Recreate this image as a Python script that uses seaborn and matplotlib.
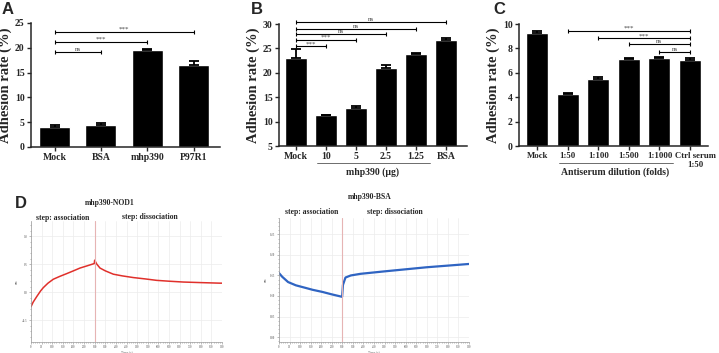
import matplotlib
matplotlib.use("Agg")
import matplotlib.pyplot as plt
import matplotlib.transforms as mtransforms
from matplotlib.ticker import MultipleLocator
import pandas as pd
import seaborn as sns

# ---- panel A ----
a_groups = ['Mock', 'BSA', 'mhp390', 'P97R1']
a_mean = [4.0, 4.5, 19.5, 16.6]
a_sd = [0.4, 0.4, 0.2, 0.7]
a_pairs = [(0, 1), (0, 2), (0, 3)]
a_heights = [19.2, 21.2, 23.2]
a_marks = ['ns', '***', '***']

# ---- panel B ----
b_groups = ['Mock', '10', '5', '2.5', '1.25', 'BSA']
b_mean = [23.1, 11.3, 12.8, 20.9, 23.8, 26.8]
b_sd = [1.7, 0.15, 0.4, 0.6, 0.3, 0.3]
b_pairs = [(0, 1), (0, 2), (0, 3), (0, 4), (0, 5)]
b_heights = [25.4, 26.8, 28.0, 29.05, 30.4]
b_marks = ['***', '***', 'ns', 'ns', 'ns']

# ---- panel C ----
c_groups = ['Mock', '1:50', '1:100', '1:500', '1:1000', 'Ctrl serum\n1:50']
c_mean = [9.3, 4.25, 5.5, 7.1, 7.2, 7.05]
c_sd = [0.1, 0.1, 0.15, 0.15, 0.08, 0.15]
c_pairs = [(1, 5), (2, 5), (3, 5), (4, 5)]
c_heights = [9.42, 8.82, 8.33, 7.73]
c_marks = ['***', '***', 'ns', 'ns']

# ---- panel D: sensorgrams ----
nod1_time = [0, 10, 27, 45, 58, 80, 105, 135, 168, 200, 231, 265, 298,
             300, 310, 325, 350, 388, 430, 482, 540, 592, 650, 718, 800, 890, 900]
nod1_nm = [-0.26, -0.18, -0.08, 0.02, 0.08, 0.16, 0.23, 0.28, 0.33, 0.38, 0.43, 0.47, 0.51,
           0.57, 0.50, 0.43, 0.38, 0.32, 0.29, 0.26, 0.235, 0.21, 0.195, 0.18, 0.17, 0.16, 0.16]
bsa_time = [0, 15, 43, 80, 124, 160, 205, 250, 299,
            300, 303, 315, 340, 386, 500, 600, 700, 800, 900]
bsa_nm = [0.156, 0.147, 0.134, 0.126, 0.12, 0.115, 0.11, 0.104, 0.098,
          0.105, 0.127, 0.145, 0.15, 0.154, 0.16, 0.165, 0.17, 0.174, 0.178]

sns.set_style("ticks")
plt.rcParams['font.family'] = ['Liberation Serif', 'DejaVu Sans']
plt.rcParams['font.weight'] = 'bold'

fig = plt.figure(figsize=(7.19, 3.53), dpi=100)


def bar_panel(rect, groups, means, sds, ylim, ystep, xlim, width, pairs, heights, marks,
              xsize=7):
    ax = fig.add_axes(rect)
    df = pd.DataFrame({'group': groups, 'mean': means})
    sns.barplot(data=df, x='group', y='mean', color='black', saturation=1,
                width=width, errorbar=None, ax=ax)
    ax.errorbar(range(len(groups)), means, yerr=[[0] * len(sds), sds], fmt='none',
                ecolor='black', elinewidth=1.3, capsize=3.5, capthick=1.3)
    for (x1, x2), h, m in zip(pairs, heights, marks):
        ax.plot([x1, x2], [h, h], color='black', lw=0.8, marker='|', ms=3,
                mew=0.8, clip_on=False)
        ax.text((x1 + x2) / 2, h, m, ha='center', va='bottom', fontsize=5,
                color='#444444', fontweight='normal')
    ax.set_ylim(*ylim)
    ax.set_xlim(*xlim)
    ax.yaxis.set_major_locator(MultipleLocator(ystep))
    ax.set_xlabel('')
    ax.set_ylabel('Adhesion rate (%)', fontsize=10.5, fontweight='bold', labelpad=2)
    ax.tick_params(axis='y', labelsize=7, length=3, width=1, pad=1.5)
    ax.tick_params(axis='x', labelsize=xsize, length=3, width=1, pad=1.5)
    for lbl in ax.get_xticklabels() + ax.get_yticklabels():
        lbl.set_fontweight('bold')
    sns.despine(ax=ax)
    for s in ['left', 'bottom']:
        ax.spines[s].set_linewidth(1.1)
    return ax


ax_a = bar_panel([0.0431, 0.5836, 0.2629, 0.3513], a_groups, a_mean, a_sd, (0, 25), 5,
                 (-0.51, 3.57), 0.67, a_pairs, a_heights, a_marks)
ax_b = bar_panel([0.388, 0.5864, 0.2615, 0.3456], b_groups, b_mean, b_sd, (5, 30), 5,
                 (-0.57, 5.7), 0.72, b_pairs, b_heights, b_marks)
ax_c = bar_panel([0.7218, 0.5864, 0.2629, 0.3456], c_groups, c_mean, c_sd, (0, 10), 2,
                 (-0.6, 5.59), 0.72, c_pairs, c_heights, c_marks, xsize=6.3)

# nudge the two-line "Ctrl serum" label a little to the right, as in the figure
last = ax_c.get_xticklabels()[-1]
last.set_transform(last.get_transform() + mtransforms.ScaledTranslation(5 / 100, 0, fig.dpi_scale_trans))

for ax, text in [(ax_b, 'mhp390 (μg)'), (ax_c, 'Antiserum dilution (folds)')]:
    trans = mtransforms.blended_transform_factory(ax.transData, ax.transAxes)
    ax.plot([0.7, 4.45], [-0.14, -0.14], color='#555555', lw=0.6,
            transform=trans, clip_on=False)
    ax.text(2.55, -0.175, text, transform=trans, ha='center', va='top',
            fontsize=7, fontweight='bold')


def sensor_panel(rect, time, nm, color, lw, ylim, ystep):
    ax = fig.add_axes(rect)
    df = pd.DataFrame({'Time (s)': time, 'nm': nm})
    sns.lineplot(data=df, x='Time (s)', y='nm', color=color, lw=lw, ax=ax)
    ax.axvline(300, color='#e6b4b4', lw=0.8)
    ax.set_xlim(0, 900)
    ax.set_ylim(*ylim)
    ax.xaxis.set_major_locator(MultipleLocator(50))
    ax.xaxis.set_minor_locator(MultipleLocator(10))
    ax.yaxis.set_major_locator(MultipleLocator(ystep))
    ax.yaxis.set_minor_locator(MultipleLocator(ystep / 5))
    ax.grid(True, which='major', color='#ececec', lw=0.5)
    ax.tick_params(which='both', labelsize=2.2, length=1.5, width=0.4,
                   colors='#888888', pad=1)
    ax.tick_params(which='minor', length=1)
    ax.set_xlabel('Time (s)', fontsize=2.5, fontweight='normal', labelpad=0.5,
                  color='#666666')
    ax.set_ylabel('nm', fontsize=2.5, fontweight='normal', labelpad=2,
                  color='#666666')
    for s in ['top', 'right']:
        ax.spines[s].set_visible(False)
    for s in ['left', 'bottom']:
        ax.spines[s].set_color('#999999')
        ax.spines[s].set_linewidth(0.5)
    ax.set_facecolor('white')
    return ax


ax_d1 = sensor_panel([0.0431, 0.0312, 0.2657, 0.3428], nod1_time, nod1_nm,
                     '#e0302b', 1.1, (-0.89, 1.27), 0.5)
ax_d2 = sensor_panel([0.388, 0.0312, 0.2643, 0.3513], bsa_time, bsa_nm,
                     '#2f64c2', 1.6, (-0.012, 0.29), 0.05)

# titles and step labels of panel D
fig.text(110 / 719, 1 - 203 / 353, 'mhp390-NOD1', fontsize=5.5, ha='center', va='center')
fig.text(370 / 719, 1 - 197 / 353, 'mhp390-BSA', fontsize=5.5, ha='center', va='center')
fig.text(63 / 719, 1 - 218 / 353, 'step: association', fontsize=5.5, ha='center', va='center')
fig.text(150 / 719, 1 - 217 / 353, 'step: dissociation', fontsize=5.5, ha='center', va='center')
fig.text(312 / 719, 1 - 212 / 353, 'step: association', fontsize=5.5, ha='center', va='center')
fig.text(395 / 719, 1 - 212 / 353, 'step: dissociation', fontsize=5.5, ha='center', va='center')

# panel letters
for letter, px, py in [('A', 8, 9), ('B', 257, 9), ('C', 499, 9), ('D', 21, 203)]:
    fig.text(px / 719, 1 - py / 353, letter, fontsize=12, fontweight='bold',
             family='Liberation Sans', ha='center', va='center')

fig.savefig('out.png', dpi=100)
